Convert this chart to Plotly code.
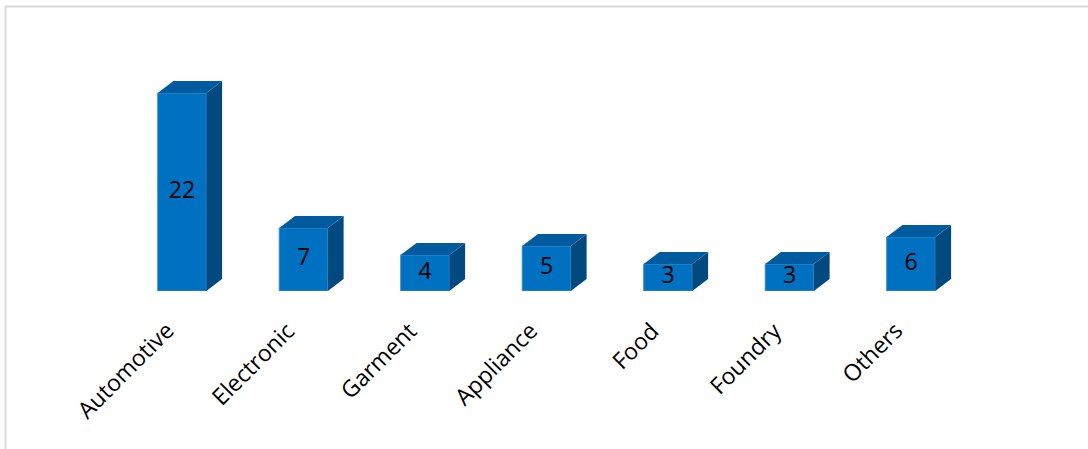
import plotly.graph_objects as go

categories = ["Automotive", "Electronic", "Garment", "Appliance", "Food", "Foundry", "Others"]
values = [22, 7, 4, 5, 3, 3, 6]

W, H = 1088, 449
front_color = "#0070C0"
top_color = "#005A9E"
side_color = "#004A80"
bar_w = 0.4
dx = 0.13   # depth offset in x (category units)
dy = 1.33   # depth offset in y (value units)

xs = list(range(len(categories)))

fig = go.Figure()

# side and top faces built from the data values
for i, v in zip(xs, values):
    r = i + bar_w / 2
    l = i - bar_w / 2
    fig.add_trace(go.Scatter(
        x=[r, r + dx, r + dx, r, r], y=[0, dy, v + dy, v, 0],
        fill="toself", fillcolor=side_color, mode="lines",
        line=dict(width=0, color=side_color), hoverinfo="skip"))
    fig.add_trace(go.Scatter(
        x=[l, l + dx, r + dx, r, l], y=[v, v + dy, v + dy, v, v],
        fill="toself", fillcolor=top_color, mode="lines",
        line=dict(width=0, color=top_color), hoverinfo="skip"))

fig.add_trace(go.Bar(
    x=xs, y=values, width=bar_w,
    marker=dict(color=front_color, line=dict(color="#3C8DD0", width=1)),
    hoverinfo="x+y"))

fig.add_trace(go.Scatter(
    x=xs, y=[v / 2 for v in values], mode="text",
    text=[str(v) for v in values], textposition="middle center",
    textfont=dict(family="Open Sans", size=23, color="black"),
    hoverinfo="skip"))

xl, xr = 121.25, 971.75
yb, ppu = 291, 9.0
ymax = 25
y_dom0 = (H - yb) / H

# category labels as rotated annotations anchored at each category
for i, c in zip(xs, categories):
    fig.add_annotation(
        x=i + 0.005, y=y_dom0 - 21 / H, xref="x", yref="paper", text=c,
        showarrow=False, textangle=-45, xanchor="right", yanchor="top",
        font=dict(family="Open Sans", size=23, color="black"))

fig.update_layout(
    width=W, height=H,
    margin=dict(l=0, r=0, t=0, b=0),
    paper_bgcolor="white", plot_bgcolor="white",
    showlegend=False,
    xaxis=dict(domain=[xl / W, xr / W], range=[-0.5, 6.5],
               showticklabels=False, ticks="",
               showgrid=False, zeroline=False, showline=False,
               automargin=False),
    yaxis=dict(domain=[y_dom0, y_dom0 + ymax * ppu / H],
               range=[0, ymax], visible=False, automargin=False),
    shapes=[dict(type="path", xref="paper", yref="paper",
                 path=f"M {5.5 / W},0 L {5.5 / W},{1 - 6.5 / H} L 1,{1 - 6.5 / H}",
                 line=dict(color="#D9D9D9", width=2))],
)

fig.write_html("out.html", config={"displayModeBar": False},
               post_script="document.body.style.margin='0';document.body.style.overflow='hidden';")
